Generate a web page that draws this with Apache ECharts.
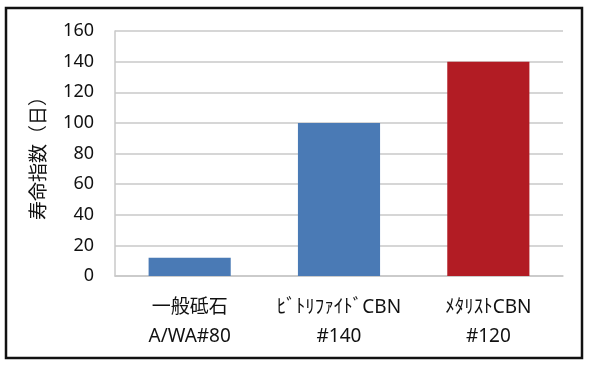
<!DOCTYPE html>
<html><head><meta charset="utf-8">
<script src="https://cdn.jsdelivr.net/npm/echarts@6/dist/echarts.min.js"></script>
<style>html,body{margin:0;padding:0;background:#fff}#c{width:594px;height:370px}</style>
</head><body><div id="c"></div>
<script>
const categories = ['一般砥石\nA/WA#80', 'ﾋﾞﾄﾘﾌｧｲﾄﾞCBN\n#140', 'ﾒﾀﾘｽﾄCBN\n#120'];
const values = [12, 100, 140];
const barColors = ['#4a7ab5', '#4a7ab5', '#b21c24'];
const yTitle = '寿命指数（日）';
const chart = echarts.init(document.getElementById('c'));
const font = '"Noto Sans", "Noto Sans CJK JP", sans-serif';
chart.setOption({
  animation: false,
  graphic: [{type:'rect', shape:{x:6,y:8,width:576,height:350}, style:{fill:'none', stroke:'#111', lineWidth:2.5}}],
  grid: {left:115, right:31, top:31, bottom:94},
  xAxis: {type:'category', data: categories,
    axisLine:{lineStyle:{color:'#c8c8c8', width:1.5}}, axisTick:{show:false},
    axisLabel:{color:'#111', fontFamily:font, margin:17,
      formatter: function(v){ const p = v.split('\n'); return '{a|' + p[0] + '}\n{b|' + p[1] + '}'; },
      rich:{a:{fontSize:19, fontFamily:font, color:'#111', lineHeight:29}, b:{fontSize:19, fontFamily:font, color:'#111', lineHeight:29}}}},
  yAxis: {type:'value', min:0, max:160, interval:20,
    name: yTitle, nameLocation:'middle', nameGap:66, nameRotate:90,
    nameTextStyle:{color:'#111', fontSize:19, fontFamily:font},
    axisLine:{show:true, lineStyle:{color:'#c8c8c8', width:1.5}}, axisTick:{show:false},
    splitLine:{lineStyle:{color:'#c8c8c8', width:1.5}},
    axisLabel:{color:'#111', fontSize:18, fontFamily:font, margin:21}},
  series: [{type:'bar', barWidth:'55%',
    data: values.map((v,i)=>({value:v, itemStyle:{color:barColors[i]}}))}]
});
</script></body></html>
